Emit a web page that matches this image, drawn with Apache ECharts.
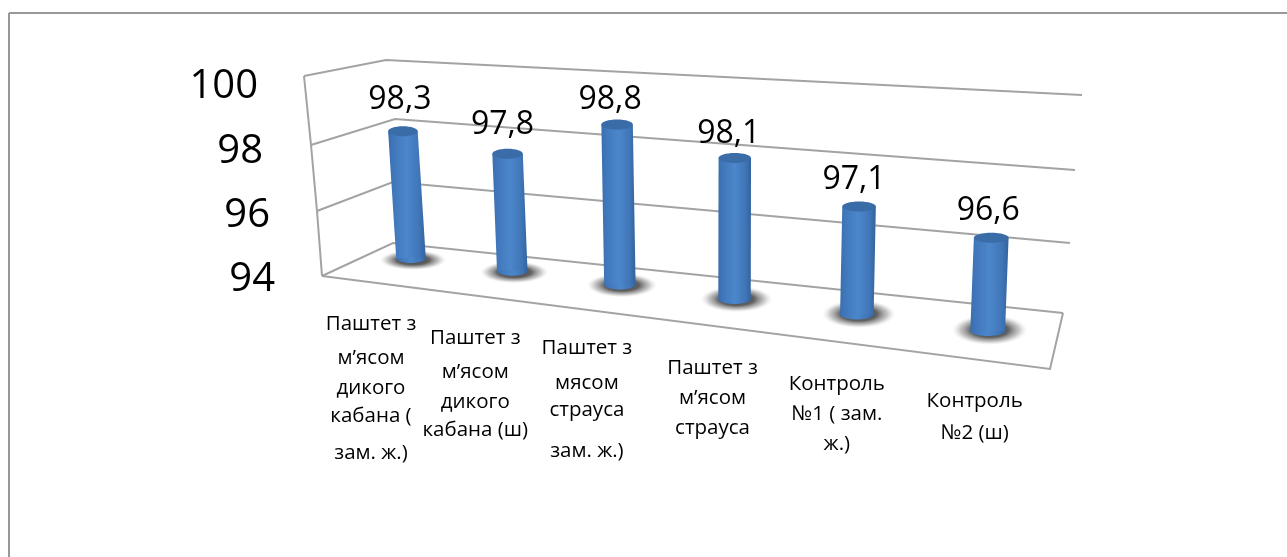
<!DOCTYPE html>
<html><head><meta charset="utf-8">
<style>html,body{margin:0;padding:0;background:#fff}#c{width:1287px;height:557px}</style>
<script src="https://cdn.jsdelivr.net/npm/echarts@6/dist/echarts.min.js"></script>
</head><body><div id="c"></div>
<script>
// ---- data ----
const categories = [
  ['Паштет з','м’ясом','дикого','кабана (','зам. ж.)'],
  ['Паштет з','м’ясом','дикого','кабана (ш)'],
  ['Паштет з','мясом','страуса','зам. ж.)'],
  ['Паштет з','м’ясом','страуса'],
  ['Контроль','№1 ( зам.','ж.)'],
  ['Контроль','№2 (ш)']
];
const values = [98.3, 97.8, 98.8, 98.1, 97.1, 96.6];
const valueLabels = ['98,3','97,8','98,8','98,1','97,1','96,6'];
const yMin = 94, yMax = 100, yStep = 2;
const yTicks = [94, 96, 98, 100];

// ---- 3D look: layout only ----
const G = {left: 280, top: 87, width: 700, height: 193};
const frontLeft = [[322,276],[317,211],[311,145],[304,76]];
const backLeft  = [[393,243],[393,182],[395,119],[386,60]];
const backRight = [[1063,313],[1070,243],[1075,170],[1082,95]];
const frontRightFloor = [1050,369];
const pxPerUnit = [29.5,30.8,33.3,34.4,34.8,35.8];
const valueDx = [2,0,-2,-1,0,2];
const valueDy = [-4,-2,2,3,0,0];
const labelDx = [-40,-37,-33,-22,-20,-13];
const labelDy = [61,62,59,64,65,65];
const labelSteps = [[0,34,64,92,129],[0,34,64,92],[0,35,62,103],[0,30,60],[0,30,60],[0,32]];
const tickPad = {100:17, 98:12, 96:5, 94:0};
const PERSP = -0.0296;
const wOf = t => 1 + PERSP * t;
const baseX = t => (86.1 * t + 411) / wOf(t);
const baseY = x => 263 + 0.1265 * (x - 411);

function edge(knots, f) {
  const s = Math.max(0, Math.min(2.9999, f * 3)), i = Math.floor(s), r = s - i;
  return [knots[i][0] + (knots[i+1][0]-knots[i][0])*r, knots[i][1] + (knots[i+1][1]-knots[i][1])*r];
}
const lineStyle = {stroke:'#a3a3a3', lineWidth:2, fill:null};
const FONT = '"Open Sans", sans-serif';

function renderWall(params, api) {
  const y = api.coord([0, api.value(0)])[1];
  const f = (G.top + G.height - y) / G.height;
  return {type:'polyline', silent:true,
    shape:{points:[edge(frontLeft,f), edge(backLeft,f), edge(backRight,f)]}, style:lineStyle};
}
function renderFloor() {
  return {type:'group', silent:true, children:[
    {type:'polyline', shape:{points:frontLeft}, style:lineStyle},
    {type:'polyline', shape:{points:[frontLeft[0], frontRightFloor, backRight[0]]}, style:lineStyle}
  ]};
}
function renderBar(params, api) {
  const i = api.value(0), val = api.value(1);
  const top = api.coord([i, val]), bot = api.coord([i, yMin]);
  const t = (top[0] - G.left) / G.width * categories.length - 0.5;
  const w = wOf(t);
  const units = (bot[1] - top[1]) / G.height * (yMax - yMin);
  const h = units * pxPerUnit[i];
  const lean = units * 0.65 * (t - 2.9);
  const rx = 14.5 / w * 1.02, ry = 5;
  const bx = baseX(t), by = baseY(bx) - ry;
  const tx = bx + lean, ty = by - h;
  const grad = {type:'linear', x:0, y:0, x2:1, y2:0, colorStops:[
    {offset:0, color:'#3a6eae'},{offset:0.12, color:'#3f76b9'},{offset:0.5, color:'#4c87cb'},
    {offset:0.82, color:'#4076b8'},{offset:1, color:'#33639e'}]};
  const shadow = {type:'radial', x:0.5, y:0.5, r:0.5, colorStops:[
    {offset:0, color:'rgba(50,50,50,0.95)'},{offset:0.5, color:'rgba(70,70,70,0.85)'},
    {offset:0.78, color:'rgba(130,130,130,0.45)'},{offset:1, color:'rgba(200,200,200,0)'}]};
  const children = [
    {type:'circle', shape:{cx:0, cy:0, r:1}, x:bx+2, y:by+2-0.6*t, scaleX:33+0.9*t, scaleY:10+t, style:{fill:shadow}},
    {type:'ellipse', shape:{cx:bx, cy:by, rx:rx, ry:ry}, style:{fill:grad}},
    {type:'polygon', shape:{points:[[tx-rx,ty],[tx+rx,ty],[bx+rx,by],[bx-rx,by]]}, style:{fill:grad}},
    {type:'ellipse', shape:{cx:tx, cy:ty, rx:rx, ry:ry}, style:{fill:'#3a6ca8'}},
    {type:'text', style:{text:valueLabels[i], x:tx-5+valueDx[i], y:ty-ry-22+valueDy[i], align:'center', verticalAlign:'middle',
      fontSize:32, fontFamily:FONT, fill:'#000'}}
  ];
  const lx = bx + labelDx[i], ly = by + ry + labelDy[i];
  categories[i].forEach((line, k) => children.push({type:'text', style:{
    text:line, x:lx, y:ly + labelSteps[i][k], align:'center', verticalAlign:'middle',
    fontSize:20.5, fontFamily:FONT, fill:'#000'}}));
  return {type:'group', silent:true, children};
}

const rich = {};
yTicks.forEach(v => rich['t'+v] = {fontSize:40, fontFamily:FONT, color:'#000', padding:[0,tickPad[v],0,0]});

const chart = echarts.init(document.getElementById('c'), null, {renderer:'canvas'});
chart.setOption({
  animation:false, backgroundColor:'#fff',
  grid:{left:G.left, top:G.top, width:G.width, height:G.height},
  xAxis:{type:'category', data:categories.map(c=>c.join(' ')), show:false},
  yAxis:{type:'value', min:yMin, max:yMax, interval:yStep,
    axisLine:{show:false}, axisTick:{show:false}, splitLine:{show:false},
    axisLabel:{margin:5, formatter:v=>`{t${v}|${v}}`, rich}},
  graphic:[
    {type:'line', silent:true, shape:{x1:9,y1:13,x2:1287,y2:13}, style:{stroke:'#989898',lineWidth:2}},
    {type:'line', silent:true, shape:{x1:9,y1:13,x2:9,y2:557}, style:{stroke:'#989898',lineWidth:2}}
  ],
  series:[
    {type:'custom', z:1, coordinateSystem:'cartesian2d', clip:false, renderItem:renderWall,
      encode:{y:0}, data:yTicks.map(v=>[v])},
    {type:'custom', z:1, coordinateSystem:'cartesian2d', clip:false, renderItem:renderFloor, data:[[0,yMin]]},
    {type:'custom', z:2, coordinateSystem:'cartesian2d', clip:false, renderItem:renderBar,
      encode:{x:0,y:1}, data:values.map((v,i)=>[i,v])}
  ]
});
</script></body></html>
